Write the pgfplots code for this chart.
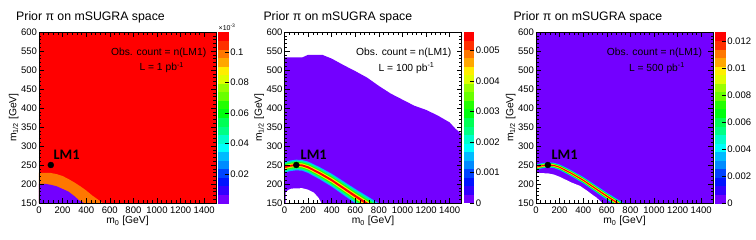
\documentclass[border=0pt]{standalone}
\usepackage{fontspec}
\setmainfont{Liberation Sans}
\newfontfamily\lmfont{Carlito}
\usepackage{pgfplots}
\pgfplotsset{compat=1.18}
\definecolor{c0}{RGB}{115,0,255}
\definecolor{c1}{RGB}{51,0,255}
\definecolor{c2}{RGB}{0,20,255}
\definecolor{c3}{RGB}{0,68,255}
\definecolor{c4}{RGB}{0,139,255}
\definecolor{c5}{RGB}{0,187,255}
\definecolor{c6}{RGB}{0,255,252}
\definecolor{c7}{RGB}{0,255,204}
\definecolor{c8}{RGB}{0,255,133}
\definecolor{c9}{RGB}{0,255,85}
\definecolor{c10}{RGB}{0,255,14}
\definecolor{c11}{RGB}{34,255,0}
\definecolor{c12}{RGB}{105,255,0}
\definecolor{c13}{RGB}{153,255,0}
\definecolor{c14}{RGB}{224,255,0}
\definecolor{c15}{RGB}{255,238,0}
\definecolor{c16}{RGB}{255,167,0}
\definecolor{c17}{RGB}{255,119,0}
\definecolor{c18}{RGB}{255,48,0}
\definecolor{c19}{RGB}{255,0,0}
\tikzset{
  txt/.style={font=\fontsize{10.3}{12}\selectfont},
  lm1/.style={anchor=west, inner sep=0pt, font=\lmfont\bfseries\fontsize{14.5}{15}\selectfont},
}
\pgfplotsset{
  colormap={rootpal}{rgb255(0cm)=(115,0,255) rgb255(1cm)=(51,0,255) rgb255(2cm)=(0,20,255) rgb255(3cm)=(0,68,255) rgb255(4cm)=(0,139,255) rgb255(5cm)=(0,187,255) rgb255(6cm)=(0,255,252) rgb255(7cm)=(0,255,204) rgb255(8cm)=(0,255,133) rgb255(9cm)=(0,255,85) rgb255(10cm)=(0,255,14) rgb255(11cm)=(34,255,0) rgb255(12cm)=(105,255,0) rgb255(13cm)=(153,255,0) rgb255(14cm)=(224,255,0) rgb255(15cm)=(255,238,0) rgb255(16cm)=(255,167,0) rgb255(17cm)=(255,119,0) rgb255(18cm)=(255,48,0) rgb255(19cm)=(255,0,0) rgb255(20cm)=(255,0,0)},
  rootpanel/.style={
    scale only axis, width=177pt, height=171pt,
    anchor=south west,
    xmin=0, xmax=1500, ymin=150, ymax=600,
    axis on top,
    tick align=inside, major tick length=5pt, minor tick length=2.5pt,
    xtick={0,200,...,1400}, minor x tick num=4,
    ytick={150,200,...,600}, minor y tick num=4,
    xtick pos=both, ytick pos=both, xticklabel pos=left, yticklabel pos=left,
    /pgf/number format/assume math mode=true,
    /pgf/number format/set thousands separator={},
    ticklabel style={font=\fontsize{9.5}{10}\selectfont},
    yticklabel style={xshift=1.4pt},
    label style={font=\fontsize{10.3}{12}\selectfont},
    xlabel={m\textsubscript{0} [GeV]},
    ylabel={m\textsubscript{1/2} [GeV]},
    xlabel style={at={(axis description cs:0.5,-0.105)}, anchor=center},
    ylabel style={at={(axis description cs:-0.143,0.5)}, anchor=center},
    axis line style={line width=0.6pt},
    every tick/.style={black, line width=0.5pt},
    colormap name=rootpal, colormap access=piecewise constant,
    colorbar,
    colorbar style={
      at={(1.01,1)}, anchor=north west,
      scale only axis, width=11pt, height=171pt,
      tick align=inside, major tick length=4pt,
      ytick pos=right, yticklabel pos=right,
      axis line style={draw=none},
      every tick/.style={black, line width=0.5pt},
      scaled y ticks=false,
      /pgf/number format/assume math mode=true,
      yticklabel style={font=\fontsize{9.5}{10}\selectfont, xshift=-2pt, /pgf/number format/fixed, /pgf/number format/precision=3},
    },
  },
}
\begin{document}
\begin{tikzpicture}
\path[use as bounding box] (0,0) rectangle (756pt,-240pt);
% ---------------- Panel 1 ----------------
\node[anchor=base west, inner sep=0pt, font=\fontsize{12.3}{14}\selectfont] at (16pt,-21pt) {Prior π on mSUGRA space};
\begin{axis}[rootpanel, at={(39pt,-203pt)},
  point meta min=0.001, point meta max=0.113,
  colorbar style={ytick={0.02,0.04,0.06,0.08,0.1}}]
\addplot[fill=c19, draw=none] coordinates {(0,150)(1500,150)(1500,600)(0,600)} -- cycle;
\addplot[fill=c17, draw=none] coordinates {(0,150)(0,229)(100,229)(150,226)(200,221)(250,213)(300,204)(350,194)(400,183)(450,170)(500,159)(540,150)} -- cycle;
\addplot[fill=c0, draw=none] coordinates {(0,150)(0,200)(60,200)(100,198)(150,194)(200,187)(250,180)(300,168)(340,157)(380,150)} -- cycle;
\addplot[only marks, mark=*, mark size=3pt, black] coordinates {(100,250)};
\node[lm1] at (axis cs:122,276) {LM1};
\node[txt] at (axis cs:1014,546) {Obs. count = n(LM1)};
\node[txt] at (axis cs:1040,506) {L = 1 pb\textsuperscript{-1}};
\end{axis}
\node[anchor=south west, inner sep=0pt, font=\fontsize{7}{8}\selectfont] at (218.5pt,-31pt) {×10\textsuperscript{-3}};
% ---------------- Panel 2 ----------------
\node[anchor=base west, inner sep=0pt, font=\fontsize{12.3}{14}\selectfont] at (263.3pt,-21pt) {Prior π on mSUGRA space};
\begin{axis}[rootpanel, at={(284.5pt,-203pt)},
  point meta min=0, point meta max=0.0056,
  colorbar style={ytick={0,0.001,0.002,0.003,0.004,0.005}}]
\addplot[fill=c0, draw=none] coordinates {(0,150)(0,533)(150,533)(200,540)(320,540)(400,530)(500,513)(600,497)(700,480)(800,458)(900,438)(1000,422)(1100,406)(1200,395)(1300,380)(1400,362)(1450,345)(1500,332)(1500,150)} -- cycle;
\addplot[fill=white, draw=none] coordinates {(10,150)(10,178)(30,184)(60,188)(150,189)(200,185)(250,177)(290,163)(312,150)} -- cycle;
\addplot[fill=c5, draw=none] coordinates {(0,258)(50,262)(100,264)(150,263)(200,259)(300,244)(400,227)(500,207)(600,187)(700,168)(800,149)(800,107)(700,128)(600,149)(500,171)(400,193)(300,212)(200,229)(150,235)(100,236)(50,234)(0,230)} -- cycle;
\addplot[fill=c8, draw=none] coordinates {(0,255)(50,259)(100,261)(150,260)(200,255.8)(300,240.6)(400,223.4)(500,203.1)(600,182.9)(700,163.7)(800,144.5)(800,111.5)(700,132.3)(600,153.1)(500,174.9)(400,196.6)(300,215.4)(200,232.2)(150,238)(100,239)(50,237)(0,233)} -- cycle;
\addplot[fill=c11, draw=none] coordinates {(0,252)(50,256)(100,258)(150,257)(200,252.6)(300,237.1)(400,219.7)(500,199.3)(600,178.9)(700,159.4)(800,140)(800,116)(700,136.6)(600,157.1)(500,178.7)(400,200.3)(300,218.9)(200,235.4)(150,241)(100,242)(50,240)(0,236)} -- cycle;
\addplot[fill=c15, draw=none] coordinates {(0,249)(50,253)(100,255)(150,254)(200,249.4)(300,233.7)(400,216.1)(500,195.4)(600,174.8)(700,155.1)(800,135.5)(800,120.5)(700,140.9)(600,161.2)(500,182.6)(400,203.9)(300,222.3)(200,238.6)(150,244)(100,245)(50,243)(0,239)} -- cycle;
\addplot[fill=c19, draw=none] coordinates {(0,246.5)(50,250.5)(100,252.5)(150,251.5)(200,246.7)(300,230.9)(400,213)(500,192.2)(600,171.4)(700,151.6)(800,131.8)(800,124.2)(700,144.4)(600,164.6)(500,185.8)(400,207)(300,225.1)(200,241.3)(150,246.5)(100,247.5)(50,245.5)(0,241.5)} -- cycle;
\addplot[only marks, mark=*, mark size=3pt, black] coordinates {(100,250)};
\node[lm1] at (axis cs:135,277) {LM1};
\node[txt] at (axis cs:1011,544) {Obs. count = n(LM1)};
\node[txt] at (axis cs:1034,504.5) {L = 100 pb\textsuperscript{-1}};
\end{axis}
% ---------------- Panel 3 ----------------
\node[anchor=base west, inner sep=0pt, font=\fontsize{12.3}{14}\selectfont] at (513.3pt,-21pt) {Prior π on mSUGRA space};
\begin{axis}[rootpanel, at={(536pt,-203pt)},
  point meta min=0, point meta max=0.0127,
  colorbar style={ytick={0,0.002,0.004,0.006,0.008,0.01,0.012}}]
\addplot[fill=c0, draw=none] coordinates {(0,150)(1500,150)(1500,600)(0,600)} -- cycle;
\addplot[fill=c5, draw=none] coordinates {(0,251)(50,255)(100,257)(150,256)(200,251.5)(300,236)(400,218.5)(500,198)(600,177.5)(700,158)(800,138.5)(800,117.5)(700,138)(600,158.5)(500,180)(400,201.5)(300,220)(200,236.5)(150,242)(100,243)(50,241)(0,237)} -- cycle;
\addplot[fill=c10, draw=none] coordinates {(0,248.9)(50,252.9)(100,254.9)(150,253.9)(200,249.3)(300,233.6)(400,216)(500,195.3)(600,174.7)(700,155)(800,135.4)(800,120.6)(700,141)(600,161.3)(500,182.7)(400,204)(300,222.4)(200,238.7)(150,244.1)(100,245.1)(50,243.1)(0,239.1)} -- cycle;
\addplot[fill=c15, draw=none] coordinates {(0,247)(50,251)(100,253)(150,252)(200,247.2)(300,231.4)(400,213.7)(500,192.9)(600,172.1)(700,152.3)(800,132.5)(800,123.5)(700,143.7)(600,163.9)(500,185.1)(400,206.3)(300,224.6)(200,240.8)(150,246)(100,247)(50,245)(0,241)} -- cycle;
\addplot[fill=c19, draw=none] coordinates {(0,245.4)(50,249.4)(100,251.4)(150,250.4)(200,245.5)(300,229.6)(400,211.7)(500,190.8)(600,169.9)(700,150)(800,130.1)(800,125.9)(700,146)(600,166.1)(500,187.2)(400,208.3)(300,226.4)(200,242.5)(150,247.6)(100,248.6)(50,246.6)(0,242.6)} -- cycle;
\addplot[fill=white, draw=none] coordinates {(0,150)(0,229)(100,228)(150,225)(200,219)(260,210)(300,204)(373,195)(430,183)(486,170)(514,164)(560,150)} -- cycle;
\addplot[only marks, mark=*, mark size=3pt, black] coordinates {(100,250)};
\node[lm1] at (axis cs:130,277) {LM1};
\node[txt] at (axis cs:1004,544) {Obs. count = n(LM1)};
\node[txt] at (axis cs:1025,504.5) {L = 500 pb\textsuperscript{-1}};
\end{axis}
\end{tikzpicture}
\end{document}
